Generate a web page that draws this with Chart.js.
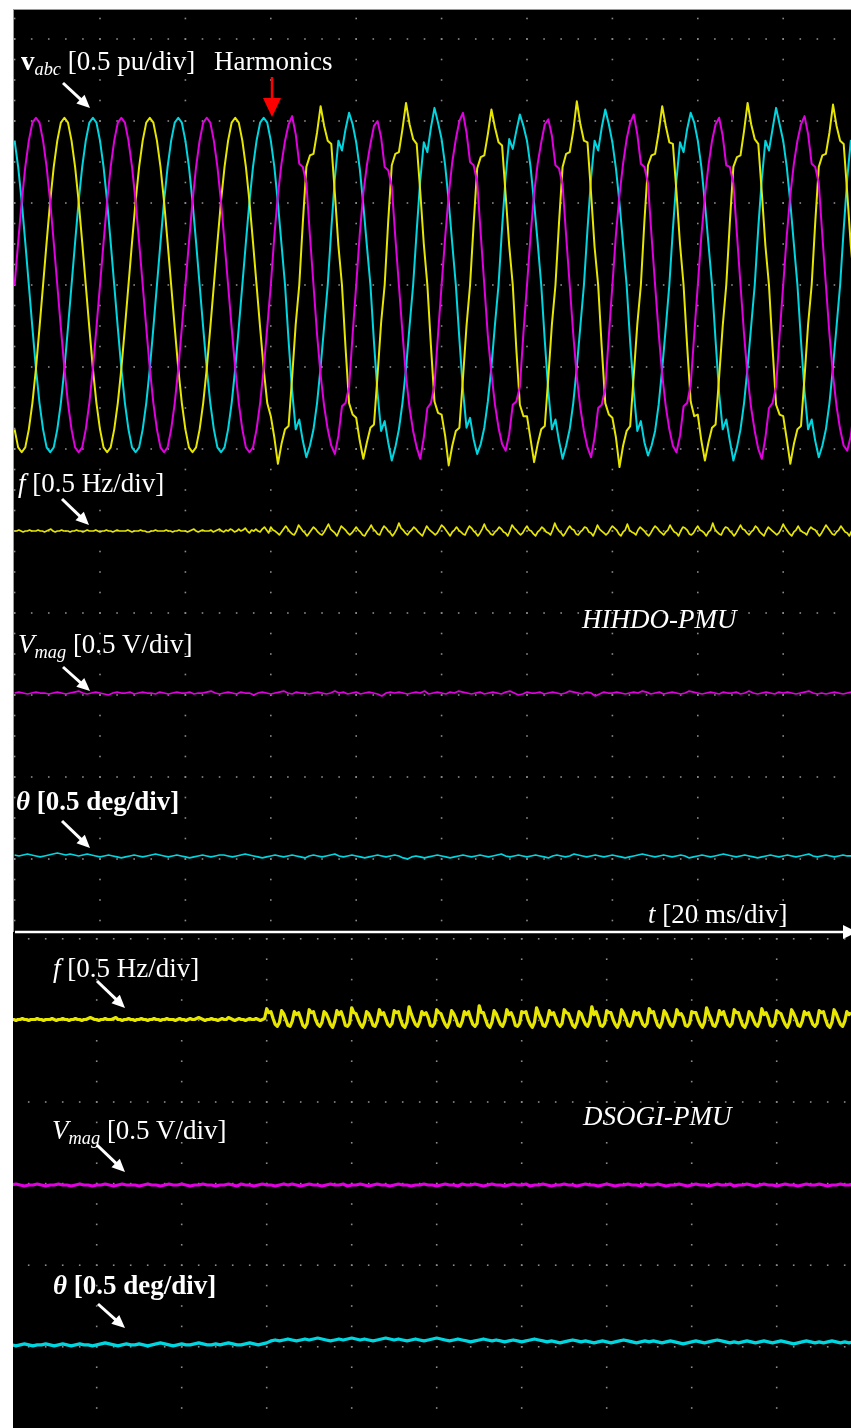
<!DOCTYPE html>
<html>
<head>
<meta charset="utf-8">
<script src="https://cdn.jsdelivr.net/npm/chart.js@4.4.1/dist/chart.umd.min.js"></script>
<style>
  html, body { margin: 0; padding: 0; background: #fff; }
  body { width: 851px; height: 1428px; position: relative; overflow: hidden; }
  #screen { position: absolute; left: 13px; top: 9px; width: 838px; height: 1419px; background: #000; }
  #edgeL { position: absolute; left: 13px; top: 9px; width: 1px; height: 923px; background: #9a9a9a; }
  #edgeT { position: absolute; left: 13px; top: 9px; width: 838px; height: 1px; background: #9a9a9a; }
  canvas { position: absolute; }
  #cTop { left: 14px; top: 10px; }
  #cBot { left: 13px; top: 934px; }
  #marks { position: absolute; left: 0; top: 0; }
  .lbl { position: absolute; white-space: nowrap; color: #fff; line-height: 1;
         font-family: 'Liberation Serif', 'Times New Roman', serif; font-size: 27px; }
  .lbl sub { font-size: 0.68em; vertical-align: -0.28em; line-height: 0; }
</style>
</head>
<body>
<div id="screen"></div>
<div id="edgeL"></div>
<div id="edgeT"></div>
<canvas id="cTop" width="837" height="921"></canvas>
<canvas id="cBot" width="838" height="494"></canvas>
<svg id="marks" width="851" height="1428" xmlns="http://www.w3.org/2000/svg"></svg>

<div class="lbl" style="left:21px;top:48px"><b>v</b><sub><i>abc</i></sub> [0.5 pu/div]</div>
<div class="lbl" style="left:214px;top:48px">Harmonics</div>
<div class="lbl" style="left:18px;top:470px"><i>f</i> [0.5 Hz/div]</div>
<div class="lbl" style="left:18px;top:631px"><i>V<sub>mag</sub></i> [0.5 V/div]</div>
<div class="lbl" style="left:16px;top:788px;font-weight:bold"><i>θ</i> [0.5 deg/div]</div>
<div class="lbl" style="left:582px;top:606px;font-style:italic">HIHDO-PMU</div>
<div class="lbl" style="left:648px;top:901px"><i>t</i> [20 ms/div]</div>
<div class="lbl" style="left:53px;top:955px"><i>f</i> [0.5 Hz/div]</div>
<div class="lbl" style="left:52px;top:1117px"><i>V<sub>mag</sub></i> [0.5 V/div]</div>
<div class="lbl" style="left:583px;top:1103px;font-style:italic">DSOGI-PMU</div>
<div class="lbl" style="left:53px;top:1272px;font-weight:bold"><i>θ</i> [0.5 deg/div]</div>

<script>
// ---- time base ----
const MS_PER_DIV = 20;
const VABC_DT = 20 / 24;   // ms between waveform samples
const F_DT = 0.5;          // ms between frequency samples
const SLOW_DT = 1;         // ms between magnitude / angle samples

// ---- three-phase voltages (pu); harmonics injected from 60 ms ----
const phaseA = [
  0,.26,.51,.72,.88,.99,1.02,.99,.88,.72,.51,.26,0,-.26,-.51,-.72,-.88,-.99,-1.02,-.99,-.88,-.72,-.51,-.26,
  0,.26,.51,.72,.88,.99,1.02,.99,.88,.72,.51,.26,0,-.26,-.51,-.72,-.88,-.99,-1.02,-.99,-.88,-.72,-.51,-.26,
  0,.26,.51,.72,.88,.99,1.02,.99,.88,.72,.51,.26,0,-.26,-.51,-.72,-.88,-.99,-1.02,-.99,-.88,-.72,-.51,-.26,
  0,.30,.55,.74,.88,.98,1.03,.92,.74,.72,.62,.30,0,-.30,-.55,-.74,-.88,-.98,-1.03,-.92,-.74,-.72,-.62,-.30,
  0,.31,.56,.73,.86,.97,1.00,.90,.72,.70,.60,.29,0,-.29,-.56,-.75,-.89,-.99,-1.06,-.93,-.75,-.72,-.61,-.30,
  0,.29,.55,.75,.89,1.00,1.05,.93,.75,.73,.63,.31,0,-.31,-.54,-.73,-.87,-.97,-1.01,-.91,-.73,-.71,-.62,-.29,
  0,.30,.56,.74,.87,.98,1.01,.91,.73,.71,.61,.30,0,-.30,-.56,-.75,-.89,-.99,-1.05,-.93,-.75,-.73,-.63,-.31,
  0,.31,.55,.74,.89,.99,1.04,.92,.74,.72,.62,.30,0,-.29,-.55,-.74,-.88,-.98,-1.02,-.92,-.74,-.72,-.61,-.30,
  0,.30,.54,.73,.88,.98,1.02,.91,.73,.72,.62,.31,0,-.30,-.56,-.75,-.89,-1.00,-1.06,-.93,-.75,-.72,-.62,-.30,
  0,.30,.55,.74,.88,.98,1.03,.92,.74,.72,.62,.30,0,-.30,-.55,-.74,-.88,-.98,-1.01,-.92,-.74
];
const phaseB = [
  -.88,-.99,-1.02,-.99,-.88,-.72,-.51,-.26,0,.26,.51,.72,.88,.99,1.02,.99,.88,.72,.51,.26,0,-.26,-.51,-.72,
  -.88,-.99,-1.02,-.99,-.88,-.72,-.51,-.26,0,.26,.51,.72,.88,.99,1.02,.99,.88,.72,.51,.26,0,-.26,-.51,-.72,
  -.88,-.99,-1.02,-.99,-.88,-.72,-.51,-.26,0,.26,.51,.72,.88,.99,1.02,.99,.88,.72,.51,.26,0,-.26,-.51,-.72,
  -.80,-.93,-1.09,-.97,-.88,-.86,-.56,-.24,0,.38,.72,.79,.80,.93,1.09,.97,.88,.86,.56,.24,0,-.38,-.72,-.79,
  -.81,-.95,-1.06,-.96,-.87,-.85,-.55,-.23,0,.39,.73,.80,.81,.95,1.11,.98,.89,.86,.57,.25,0,-.37,-.71,-.78,
  -.79,-.92,-1.10,-.98,-.89,-.87,-.57,-.25,0,.37,.71,.78,.79,.92,1.07,.96,.87,.85,.55,.24,0,-.39,-.73,-.80,
  -.80,-.94,-1.08,-.97,-.88,-.86,-.56,-.24,0,.38,.72,.80,.81,.94,1.12,.98,.88,.87,.56,.23,0,-.38,-.72,-.79,
  -.81,-.93,-1.11,-.98,-.89,-.86,-.55,-.24,0,.39,.73,.79,.80,.93,1.09,.97,.87,.86,.57,.25,0,-.37,-.71,-.80,
  -.79,-.95,-1.07,-.96,-.87,-.85,-.56,-.25,0,.38,.72,.78,.79,.94,1.11,.98,.89,.86,.56,.24,0,-.38,-.73,-.79,
  -.80,-.94,-1.09,-.97,-.88,-.86,-.56,-.24,0,.38,.72,.79,.80,.93,1.10,.97,.88,.86,.56,.24,0
];
const phaseC = [
  .88,.72,.51,.26,0,-.26,-.51,-.72,-.88,-.99,-1.02,-.99,-.88,-.72,-.51,-.26,0,.26,.51,.72,.88,.99,1.02,.99,
  .88,.72,.51,.26,0,-.26,-.51,-.72,-.88,-.99,-1.02,-.99,-.88,-.72,-.51,-.26,0,.26,.51,.72,.88,.99,1.02,.99,
  .88,.72,.51,.26,0,-.26,-.51,-.72,-.88,-.99,-1.02,-.99,-.88,-.72,-.51,-.26,0,.26,.51,.72,.88,.99,1.02,.99,
  .88,.72,.50,.25,0,-.34,-.65,-.88,-.82,-.95,-1.05,-.98,-.88,-.72,-.50,-.25,0,.34,.65,.88,.82,.95,1.05,.98,
  .87,.71,.49,.24,0,-.35,-.66,-.89,-.83,-.96,-1.07,-.99,-.88,-.72,-.51,-.25,0,.33,.64,.87,.81,.96,1.08,.99,
  .89,.73,.51,.25,0,-.33,-.64,-.87,-.81,-.94,-1.03,-.97,-.87,-.71,-.50,-.24,0,.35,.66,.89,.83,.94,1.04,.97,
  .88,.72,.50,.26,0,-.34,-.65,-.88,-.82,-.95,-1.06,-.98,-.88,-.72,-.50,-.25,0,.34,.65,.88,.82,.96,1.07,.98,
  .87,.71,.50,.25,0,-.35,-.65,-.89,-.83,-.96,-1.04,-.98,-.89,-.73,-.51,-.26,0,.34,.64,.87,.81,.95,1.05,.99,
  .88,.72,.50,.25,0,-.34,-.66,-.88,-.82,-.95,-1.07,-.99,-.88,-.72,-.50,-.25,0,.35,.65,.88,.82,.95,1.08,.98,
  .88,.72,.50,.25,0,-.34,-.65,-.88,-.82,-.95,-1.05,-.98,-.88,-.72,-.50,-.25,0,.34,.65,.88,.82
];

// ---- HIHDO-PMU estimates (deviation from nominal) ----
// frequency, mHz
const freqHIHDO = [
  0,0,6,0,-6,0,0,6,0,0, 0,6,0,0,-6,0,6,12,0,-6, 0,0,6,0,0,0,-6,0,0,6, 0,0,-6,0,6,0,0,0,6,0,
  -6,0,0,6,0,0,-6,0,6,0, 0,0,0,6,0,-6,0,0,0,6, 0,0,-6,-6,0,0,6,0,0,0, 0,6,0,0,-6,0,0,6,0,0,
  0,-6,0,6,12,0,-6,0,6,0, 0,0,6,-6,0,6,12,0,-6,6, 0,12,6,-6,0,12,0,6,18,0, -12,6,0,12,0,-6,12,24,6,-12,
  24,6,0,-12,-24,-6,12, 30,12,-6,-18,-24,0, 36,18,0,-12,-30,-12,6, 24,12,-6,-18,-24,-6,18,
  42,12,0,-12,-30,0, 30,18,6,-12,-24,-12,6, 24,6,-6,-24,-30,-6,12, 36,12,0,-18,-24,6,
  30,18,0,-12,-30,-12,12, 48,18,6,-12,-24,-6,6, 24,12,-6,-18,-30,0, 30,12,0,-12,-24,-12,12,
  36,24,6,-12,-30,-6,6, 24,6,-6,-18,-24,6, 30,18,0,-12,-30,-12,12, 42,12,0,-18,-24,-6,6,
  24,12,-6,-12,-30,0, 36,18,6,-12,-24,-12,12, 30,6,0,-18,-30,-6,6, 24,12,-6,-12,-24,6,
  48,18,0,-12,-30,-12,12, 30,12,6,-18,-24,-6,6, 24,18,-6,-12,-30,0, 36,12,0,-12,-24,-12,12,
  30,18,6,-18,-30,-6,6, 42,6,-6,-12,-24,6, 24,12,0,-18,-30,-12,12, 30,18,0,-12,-24,-6,6,
  36,12,-6,-12,-30,0, 24,18,6,-18,-24,-12,12, 30,6,0,-12,-30,-6,6, 48,12,-6,-18,-24,6,
  24,18,0,-12,-30,-12,12, 36,12,6,-12,-24,-6,6, 30,18,-6,-18,-30,0, 24,12,0,-12,-24,-12,12,
  42,18,0,-18,-30,-6,6, 30,6,-6,-12,-24,6, 24,12,6,-12,-30,-12,12, 36,18,0,-18,-24,-6,6,
  30,12,-6,-12,-30,0
];
// magnitude, mV
const magHIHDO = [
  0,6,0,-6,0,6,0,0,-6,0, 6,0,-6,0,6,12,0,-6,0,6, 0,-6,-12,0,6,0,0,6,-6,0, 6,0,0,-6,6,0,-6,0,6,0,
  0,6,-6,0,0,6,12,0,-6,0, 6,0,-6,6,0,0,-12,0,6,0, -6,0,6,12,0,-6,6,0,0,-6, 0,6,0,-6,0,12,0,6,-6,0,
  6,-6,0,6,0,-6,-18,0,6,0, 6,0,-6,0,6,0,12,-6,0,6, 0,-6,6,0,12,6,0,-6,0,6, -6,0,6,0,-6,6,12,0,-12,-6,
  6,0,0,6,-6,0,6,0,-6,0, 12,6,0,-6,6,0,-18,-6,6,0, 0,6,0,-6,0,6,0,12,6,-6, 0,6,-6,0,6,0,-6,0,12,6,
  0,-6,0,6,0,-6,6,0,0,6, -6,0,12,0,-6,0,6,0,-6,6, 0,6,0,-6,0,6,12,0,-6,0, -6,0,6,0,-6,0,6
];
// phase angle, mdeg
const angHIHDO = [
  6,0,6,12,6,0,-6,0,6,12, 18,12,6,12,6,0,6,12,6,0, -6,0,6,0,-6,-12,-6,0,6,0, -6,0,6,12,6,0,-6,0,6,0,
  -6,-12,-6,0,6,0,-6,0,6,6, 0,-6,0,6,12,6,0,-6,-12,-6, 0,6,0,-6,0,6,0,-6,-12,0, 6,0,-6,0,6,12,0,-6,0,6,
  0,-6,-12,-6,0,6,0,-6,0,6, 0,-12,-18,-6,0,-6,-12,-6,0,6, 0,-6,-12,-6,0,6,0,-6,0,6, 0,-6,0,6,12,0,-6,0,6,0,
  -6,0,6,0,-6,-12,0,6,0,-6, 0,12,6,0,-6,0,6,0,-6,0, 6,0,-6,-12,-6,0,6,12,6,0, -6,0,6,0,-6,0,6,0,-12,-6,
  0,6,0,-6,0,6,12,6,0,-6, 0,6,0,-6,-12,-6,0,6,0,-6, 0,6,0,-6,0,6,12,0,-6,0, 6,0,-6,0,6,0,0
];

// ---- DSOGI-PMU estimates (deviation from nominal) ----
// frequency, mHz
const freqDSOGI = [
  0,0,-6,0,0,6,0,0,-6,0, 0,0,6,0,0,-6,0,0,0,6, 0,-6,0,0,6,0,0,-6,0,0, 6,0,0,-6,0,0,6,12,6,0,
  0,-6,0,0,6,0,0,0,6,12, 0,0,-6,0,0,6,0,0,-6,0, 0,6,0,0,-6,0,0,6,0,0, -6,0,0,6,0,0,0,-6,0,6,
  0,0,-6,0,6,0,0,6,12,6, 0,-6,0,0,6,0,0,-6,0,6, 0,0,12,6,0,-6,0,6,0,0, -6,0,6,0,0,6,0,-6,0,6,
  66,42,48,6,-30,-42,-18, 54,36,0,-36,-42,-12, 48,30,42,6,-36,-48,-24, 60,42,48,0,-30,-42,-18,
  48,36,6,-30,-48,-12, 54,30,48,12,-36,-42,-24, 72,42,36,0,-30,-48,-18, 48,36,6,-36,-42,-12,
  60,30,42,6,-30,-42,-24, 54,42,48,0,-36,-48,-18, 78,36,0,-30,-42,-12, 48,30,42,12,-36,-42,-24,
  60,42,36,0,-30,-48,-18, 54,36,6,-36,-42,-12, 48,30,48,6,-30,-42,-24, 84,42,42,0,-36,-48,-18,
  54,36,0,-30,-42,-12, 60,30,42,12,-36,-42,-24, 48,42,48,0,-30,-48,-18, 72,36,6,-36,-42,-12,
  54,30,42,6,-30,-42,-24, 60,42,36,0,-36,-48,-18, 48,36,0,-30,-42,-12, 78,30,48,12,-36,-42,-24,
  54,42,42,0,-30,-48,-18, 60,36,6,-36,-42,-12, 48,30,42,6,-30,-42,-24, 66,42,48,0,-36,-48,-18,
  54,36,0,-30,-42,-12, 60,30,36,12,-36,-42,-24, 48,42,42,0,-30,-48,-18, 72,36,6,-36,-42,-12,
  54,30,48,6,-30,-42,-24, 60,42,42,0,-36,-48,-18, 48,36,0,-30,-42,-12, 66,30,42,12,-36,-42,-24,
  54,42,36,0,-30,-48,-18, 60,36,6,-36,-42,-12, 48,30,42,6,-30,-42,-24, 54,42,48,0,-36,-48,-18,
  60,36,0,-30,-42,-12, 48,30,42,6
];
// magnitude, mV
const magDSOGI = [
  0,6,0,-6,0,0,6,0,-6,0, 0,6,0,0,-6,0,6,0,0,-6, 0,0,6,0,-6,0,6,0,0,0, -6,0,6,0,0,-6,0,6,0,0,
  6,0,-6,0,0,6,0,0,-6,0, 0,6,0,-6,6,0,0,-6,0,6, 0,0,-6,0,6,0,6,0,-6,0, 6,0,0,-6,0,6,0,0,6,-6,
  0,0,6,0,-6,0,6,0,0,-6, 0,6,0,0,-6,0,0,6,0,0, -6,0,6,0,0,-6,6,0,0,6, 0,-6,0,6,0,0,-6,0,6,0,
  0,6,-6,0,0,6,0,-6,0,0, 6,0,0,-6,0,6,0,0,-6,0, 6,0,-6,0,0,6,0,0,-6,6, 0,0,6,0,-6,0,0,6,0,-6,
  0,6,0,0,-6,0,6,0,0,6, -6,0,0,6,0,-6,0,6,0,0, -6,0,6,0,0,-6,0,6,0,0, 6,0,-6,0,0,6,0,0,6
];
// phase angle, mdeg
const angDSOGI = [
  12,6,12,18,12,6,12,12,18,12, 6,12,18,12,6,12,18,12,12,6, 12,18,24,18,12,6,12,18,12,12,
  18,12,6,12,18,24,18,12,6,12, 18,12,12,18,24,18,12,12,18,12, 18,24,18,12,12,18,24,18,12,18,
  24,36,42,36,42,48,42,36,42,48, 42,48,54,48,42,36,42,48,42,48, 54,48,42,48,42,36,42,48,54,48,
  42,48,42,36,42,48,42,36,42,48, 54,48,42,36,42,48,42,36,30,36, 42,48,42,36,42,36,30,36,42,36,
  30,36,42,48,42,36,30,36,30,24, 30,36,42,36,30,36,30,24,30,36, 30,24,30,36,42,36,30,24,30,36,
  30,36,30,24,30,36,30,24,18,24, 30,36,30,24,30,36,42,36,30,24, 30,24,30,36,30,24,30,36,30,24,
  30,36,30,24,18,24,30,36,30,24, 30,24,30,36,30,24,30,24,30
];

// ---- screen geometry (pixels on the page) ----
const PANEL_TOP = { left: 14, top: 10, width: 837, height: 921, col0: 14.6, colPx: 85.4, row0: 39, rowPx: 82 };
const PANEL_BOT = { left: 13, top: 934, width: 838, height: 494, col0: 11.7, colPx: 85.0, row0: 938.8, rowPx: 81.6 };

// channel vertical position (grid row of the zero level) and sensitivity per division
const CH_TOP = {
  yV:   { row: 3,     perDiv: 0.5 },   // pu
  yF:   { row: 6,     perDiv: 500 },   // mHz
  yMag: { row: 7.976, perDiv: 500 },   // mV
  yAng: { row: 9.963, perDiv: 500 }    // mdeg
};
const CH_BOT = {
  yF:   { row: 0.989, perDiv: 500 },
  yMag: { row: 3.017, perDiv: 500 },
  yAng: { row: 5,     perDiv: 500 }
};

const YELLOW = '#e6e600', MAGENTA = '#e000e0', CYAN = '#00d6e0';

function toXY(vals, dt) { return vals.map((v, i) => ({ x: i * dt, y: v })); }

function panelScales(p, channels) {
  const gMin = (p.top - p.row0) / p.rowPx;
  const gMax = (p.top + p.height - p.row0) / p.rowPx;
  const scales = {
    x: { type: 'linear', axis: 'x', display: false,
         min: (p.left - p.col0) / p.colPx * MS_PER_DIV,
         max: (p.left + p.width - p.col0) / p.colPx * MS_PER_DIV },
    gy: { type: 'linear', axis: 'y', display: false, reverse: true, min: gMin, max: gMax }
  };
  for (const [id, ch] of Object.entries(channels)) {
    scales[id] = { type: 'linear', axis: 'y', display: false,
                   min: (ch.row - gMax) * ch.perDiv, max: (ch.row - gMin) * ch.perDiv };
  }
  return scales;
}

// graticule: dotted division lines of the scope screen
const dotGrid = {
  id: 'dotGrid',
  beforeDatasetsDraw(chart) {
    const { ctx, scales: { x, gy } } = chart;
    ctx.save();
    ctx.fillStyle = '#8a8a8a';
    const dot = (px, py) => ctx.fillRect(px - 0.8, py - 0.8, 1.6, 1.6);
    for (let k = Math.ceil(x.min / MS_PER_DIV); k <= Math.floor(x.max / MS_PER_DIV); k++) {
      const px = x.getPixelForValue(k * MS_PER_DIV);
      for (let q = Math.ceil(gy.min * 4); q <= Math.floor(gy.max * 4); q++) dot(px, gy.getPixelForValue(q / 4));
    }
    const sub = MS_PER_DIV / 5;
    for (let r = Math.ceil(gy.min); r <= Math.floor(gy.max); r++) {
      const py = gy.getPixelForValue(r);
      for (let m = Math.ceil(x.min / sub); m <= Math.floor(x.max / sub); m++) dot(x.getPixelForValue(m * sub), py);
    }
    ctx.restore();
  }
};

function trace(data, color, axis, width) {
  return { data, borderColor: color, borderWidth: width, yAxisID: axis, xAxisID: 'x',
           pointRadius: 0, tension: 0, fill: false, borderJoinStyle: 'round' };
}

const baseOptions = (scales) => ({
  responsive: false, animation: false, events: [],
  layout: { padding: 0 },
  plugins: { legend: { display: false }, tooltip: { enabled: false } },
  scales
});

new Chart(document.getElementById('cTop'), {
  type: 'line',
  data: { datasets: [
    trace(toXY(phaseA, VABC_DT), MAGENTA, 'yV', 2),
    trace(toXY(phaseB, VABC_DT), YELLOW, 'yV', 2),
    trace(toXY(phaseC, VABC_DT), CYAN, 'yV', 2),
    trace(toXY(freqHIHDO, F_DT), YELLOW, 'yF', 1.7),
    trace(toXY(magHIHDO, SLOW_DT), MAGENTA, 'yMag', 1.7),
    trace(toXY(angHIHDO, SLOW_DT), CYAN, 'yAng', 1.7)
  ] },
  options: baseOptions(panelScales(PANEL_TOP, CH_TOP)),
  plugins: [dotGrid]
});

new Chart(document.getElementById('cBot'), {
  type: 'line',
  data: { datasets: [
    trace(toXY(freqDSOGI, F_DT), YELLOW, 'yF', 3.2),
    trace(toXY(magDSOGI, SLOW_DT), MAGENTA, 'yMag', 3.2),
    trace(toXY(angDSOGI, SLOW_DT), CYAN, 'yAng', 3.2)
  ] },
  options: baseOptions(panelScales(PANEL_BOT, CH_BOT)),
  plugins: [dotGrid]
});

// ---- annotation arrows and time axis ----
const svg = document.getElementById('marks');
const NS = 'http://www.w3.org/2000/svg';
function el(name, attrs) {
  const e = document.createElementNS(NS, name);
  for (const k in attrs) e.setAttribute(k, attrs[k]);
  svg.appendChild(e);
  return e;
}
function arrow(x1, y1, x2, y2, color, w, headLen, headW) {
  const dx = x2 - x1, dy = y2 - y1, L = Math.hypot(dx, dy), ux = dx / L, uy = dy / L;
  const bx = x2 - ux * headLen, by = y2 - uy * headLen;
  el('line', { x1, y1, x2: bx + ux, y2: by + uy, stroke: color, 'stroke-width': w });
  el('polygon', { fill: color, points:
    `${x2},${y2} ${bx - uy * headW / 2},${by + ux * headW / 2} ${bx + uy * headW / 2},${by - ux * headW / 2}` });
}
arrow(63, 83, 90, 108, '#fff', 3, 13, 12);
arrow(62, 499, 89, 525, '#fff', 3, 13, 12);
arrow(63, 667, 90, 691, '#fff', 3, 13, 12);
arrow(62, 821, 90, 848, '#fff', 3, 13, 12);
arrow(97, 981, 125, 1008, '#fff', 3, 13, 12);
arrow(97, 1145, 125, 1172, '#fff', 3, 13, 12);
arrow(98, 1304, 125, 1328, '#fff', 3, 13, 12);
arrow(272, 77, 272, 117, '#ff0000', 2.5, 19, 18);
// time axis
el('line', { x1: 15, y1: 932, x2: 846, y2: 932, stroke: '#fff', 'stroke-width': 2.7 });
el('polygon', { fill: '#fff', points: '843,925 857,932 843,939' });
</script>
</body>
</html>
